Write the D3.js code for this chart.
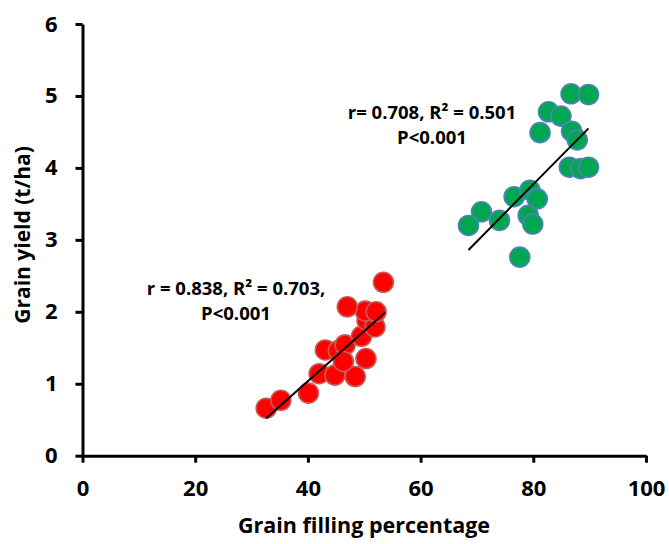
<!DOCTYPE html>
<html>
<head>
<meta charset="utf-8">
<script src="https://cdn.jsdelivr.net/npm/d3@7"></script>
<style>
  body { margin: 0; background: #fff; }
  svg { display: block; }
  .f-txt { font-family: 'Open Sans', 'Liberation Sans', sans-serif; font-weight: bold; fill: #000; }
</style>
</head>
<body>
<div id="chart"></div>
<script>
// 低灌浆组（红色）
var redX = [32.6, 35.2, 40.1, 42.0, 44.8, 48.4, 43.1, 45.4, 46.6, 46.3, 50.3, 49.5, 50.5, 51.9, 50.2, 52.1, 47.0, 53.4]
var redY = [0.66, 0.77, 0.87, 1.14, 1.12, 1.10, 1.47, 1.46, 1.54, 1.31, 1.35, 1.66, 1.88, 1.79, 2.01, 2.00, 2.07, 2.41]
// 高灌浆组（绿色）
var greenX = [86.7, 89.8, 82.7, 84.9, 81.2, 86.8, 87.8, 86.4, 88.4, 89.8, 76.6, 79.4, 80.7, 70.8, 68.5, 74.0, 79.1, 79.9, 77.6]
var greenY = [5.03, 5.02, 4.78, 4.72, 4.49, 4.51, 4.39, 4.01, 3.99, 4.01, 3.60, 3.69, 3.57, 3.39, 3.20, 3.27, 3.34, 3.22, 2.76]
// 趋势线端点
var redTrend = [[32.6, 0.52], [53.7, 1.99]]
var greenTrend = [[68.5, 2.86], [89.8, 4.55]]
// 坐标轴
var xTicks = [0, 20, 40, 60, 80, 100]
var yTicks = [0, 1, 2, 3, 4, 5, 6]
var redNote = ['r = 0.838, R\u00B2 = 0.703,', 'P<0.001']
var greenNote = ['r= 0.708, R\u00B2 = 0.501', 'P<0.001']

var W = 669, H = 544
var svg = d3.select('#chart').append('svg').attr('width', W).attr('height', H)

var x = d3.scaleLinear().domain([0, 100]).range([82.5, 646])
var y = d3.scaleLinear().domain([0, 6]).range([455.7, 24])

// 散点
function drawPoints (xs, ys, fill, stroke) {
  svg.append('g')
    .selectAll('circle')
    .data(xs.map((v, i) => [v, ys[i]]))
    .enter()
    .append('circle')
    .attr('cx', d => x(d[0]))
    .attr('cy', d => y(d[1]))
    .attr('r', 10)
    .attr('fill', fill)
    .attr('stroke', stroke)
    .attr('stroke-width', 1.6)
}
drawPoints(redX, redY, '#ff0000', '#c65a56')
drawPoints(greenX, greenY, '#00a650', '#4f81bd')

// 趋势线
var line = d3.line().x(d => x(d[0])).y(d => y(d[1]))
;[redTrend, greenTrend].forEach(t => {
  svg.append('path').attr('d', line(t)).attr('stroke', '#000').attr('stroke-width', 2).attr('fill', 'none')
})

// 坐标轴
var gx = svg.append('g').attr('transform', 'translate(0,' + y(0) + ')')
  .call(d3.axisBottom(x).tickValues(xTicks).tickFormat(d3.format('d')).tickSize(7).tickSizeOuter(0).tickPadding(18))
var gy = svg.append('g').attr('transform', 'translate(' + x(0) + ',0)')
  .call(d3.axisLeft(y).tickValues(yTicks).tickFormat(d3.format('d')).tickSize(7).tickSizeOuter(0).tickPadding(18))
;[gx, gy].forEach(g => {
  g.select('.domain').attr('stroke', '#000').attr('stroke-width', 3)
  g.selectAll('.tick line').attr('stroke', '#000').attr('stroke-width', 3)
  g.selectAll('.tick text').attr('class', 'f-txt').style('font-size', '22px')
})

// 标注
function note (lines, cx, cy) {
  svg.append('text').attr('class', 'f-txt').attr('text-anchor', 'middle')
    .style('font-size', '18.5px')
    .selectAll('tspan').data(lines).enter().append('tspan')
    .attr('x', cx).attr('y', (d, i) => cy + i * 25)
    .text(d => d)
}
note(redNote, 236, 295)
note(greenNote, 432, 119)

// 轴标题
svg.append('text').attr('class', 'f-txt').attr('text-anchor', 'middle')
  .style('font-size', '21.5px')
  .attr('x', 364).attr('y', 533).text('Grain filling percentage')
svg.append('text').attr('class', 'f-txt').attr('text-anchor', 'middle')
  .style('font-size', '21px')
  .attr('transform', 'translate(30,235) rotate(-90)').text('Grain yield (t/ha)')
</script>
</body>
</html>
